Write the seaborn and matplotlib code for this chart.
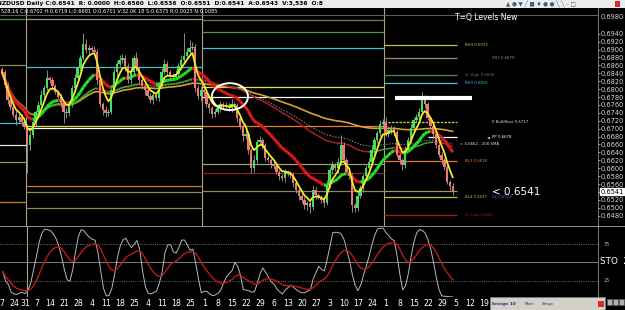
import numpy as np
import pandas as pd
import matplotlib
matplotlib.use("Agg")
import matplotlib.pyplot as plt
import seaborn as sns
from matplotlib.collections import LineCollection
from matplotlib.patches import Ellipse, Rectangle

# daily NZDUSD closes (Dec 18 2018 .. Aug 2019)
closes = [
    0.6843, 0.6810, 0.6773, 0.6755, 0.6735, 0.6722, 0.6730, 0.6717, 0.6704, 0.6659,
    0.6684, 0.6717, 0.6742, 0.6760, 0.6785, 0.6803, 0.6828, 0.6823, 0.6808, 0.6793,
    0.6780, 0.6765, 0.6742, 0.6740, 0.6762, 0.6803, 0.6828, 0.6853, 0.6879, 0.6914,
    0.6899, 0.6904, 0.6899, 0.6894, 0.6823, 0.6762, 0.6747, 0.6740, 0.6742, 0.6798,
    0.6843, 0.6864, 0.6874, 0.6879, 0.6859, 0.6823, 0.6843, 0.6879, 0.6853, 0.6823,
    0.6808, 0.6798, 0.6783, 0.6773, 0.6785, 0.6778, 0.6813, 0.6843, 0.6864, 0.6843,
    0.6833, 0.6831, 0.6838, 0.6859, 0.6874, 0.6884, 0.6894, 0.6904, 0.6907, 0.6803,
    0.6783, 0.6798, 0.6793, 0.6762, 0.6752, 0.6737, 0.6742, 0.6752, 0.6762, 0.6757,
    0.6757, 0.6752, 0.6762, 0.6760, 0.6727, 0.6707, 0.6682, 0.6687, 0.6646, 0.6601,
    0.6621, 0.6666, 0.6671, 0.6659, 0.6626, 0.6621, 0.6611, 0.6606, 0.6591, 0.6580,
    0.6575, 0.6591, 0.6586, 0.6583, 0.6563, 0.6545, 0.6530, 0.6520, 0.6507, 0.6512,
    0.6502, 0.6545, 0.6532, 0.6527, 0.6520, 0.6512, 0.6558, 0.6596, 0.6608, 0.6601,
    0.6616, 0.6659, 0.6621, 0.6591, 0.6580, 0.6507, 0.6500, 0.6530, 0.6550, 0.6580,
    0.6601, 0.6616, 0.6646, 0.6671, 0.6689, 0.6712, 0.6717, 0.6687, 0.6697, 0.6702,
    0.6692, 0.6634, 0.6621, 0.6608, 0.6646, 0.6671, 0.6702, 0.6722, 0.6730, 0.6742,
    0.6778, 0.6762, 0.6727, 0.6707, 0.6687, 0.6659, 0.6634, 0.6621, 0.6603, 0.6565,
    0.6555, 0.6541,
]
first_open = 0.6850
# wick sizes in pips above / below the candle body
hi_wick = [
    6, 5, 8, 6, 5, 10, 8, 6, 12, 9, 10, 8, 6, 10, 12, 8, 20, 6, 8, 5,
    6, 8, 5, 10, 6, 8, 10, 6, 8, 28, 12, 8, 6, 10, 8, 5, 6, 10, 8, 12,
    10, 8, 12, 10, 6, 8, 10, 6, 14, 6, 8, 5, 8, 6, 10, 8, 6, 10, 12, 8,
    6, 8, 10, 8, 12, 58, 10, 20, 12, 6, 8, 10, 6, 8, 5, 6, 8, 10, 8, 6,
    10, 8, 12, 6, 5, 8, 6, 10, 5, 6, 12, 8, 10, 6, 5, 8, 6, 8, 6, 5,
    6, 8, 5, 6, 8, 5, 6, 5, 8, 6, 5, 10, 8, 6, 5, 6, 12, 8, 10, 6,
    10, 25, 8, 6, 5, 8, 6, 10, 8, 6, 8, 10, 12, 8, 6, 10, 8, 12, 10, 8,
    6, 5, 8, 6, 10, 8, 10, 6, 8, 10, 15, 8, 6, 5, 6, 5, 8, 6, 5, 6,
    5, 8,
]
lo_wick = [
    8, 6, 10, 8, 6, 12, 8, 10, 6, 71, 12, 8, 10, 6, 8, 10, 6, 8, 10, 6,
    8, 10, 27, 12, 8, 6, 10, 8, 6, 5, 8, 10, 6, 8, 10, 8, 12, 10, 8, 6,
    8, 10, 6, 8, 12, 8, 10, 8, 6, 10, 8, 12, 6, 8, 10, 6, 8, 10, 6, 8,
    10, 8, 6, 8, 10, 6, 8, 5, 6, 10, 8, 12, 10, 8, 12, 10, 8, 6, 10, 8,
    6, 8, 10, 8, 10, 8, 12, 8, 10, 12, 10, 8, 6, 10, 8, 6, 10, 8, 6, 10,
    8, 10, 6, 8, 10, 8, 10, 8, 10, 12, 15, 8, 10, 6, 8, 10, 6, 8, 10, 8,
    12, 8, 10, 6, 8, 18, 10, 8, 6, 10, 8, 6, 8, 10, 6, 8, 10, 6, 8, 10,
    8, 6, 10, 12, 8, 6, 8, 10, 6, 8, 8, 10, 6, 8, 10, 8, 6, 10, 8, 6,
    10, 8,
]
holidays = ["2018-12-25", "2019-01-01"]
last_label_day = "2019-08-19"

# quarterly pivot levels (price, colour)
q4_levels = [(0.6977, "#3a9a3a"), (0.6861, "#8a8a50"), (0.6714, "#40c0d0"),
             (0.6659, "#e8e8e8"), (0.6616, "#9a9a60"), (0.6515, "#d07830")]
q1_levels = [(0.6977, "#9a9a80"), (0.6856, "#40c0d0"), (0.6707, "#e8e050"),
             (0.6702, "#ffffff"), (0.6555, "#d07830"), (0.6540, "#8a8a60"),
             (0.6499, "#8a8a60")]
q2_levels = [(0.6974, "#8a7050"), (0.6945, "#4a9a4a"), (0.6904, "#40c0d0"),
             (0.6806, "#e8e050"), (0.6780, "#ffffff"), (0.6707, "#e08030"),
             (0.6611, "#a0a070"), (0.6588, "#902020"), (0.6543, "#8a8a60")]
q3_names = ["BH4 0.6912", "SR1 0.6879", "LL High 0.6836", "BH3 0.6815",
            "0 Bull/Bear 0.6717", "PP 0.6678", "BL3 0.6618", "", "BL4 0.6527",
            "LL Low 0.6481"]
q3_prices = [0.6912, 0.6879, 0.6836, 0.6815, 0.6717, 0.6678, 0.6618, 0.6543,
             0.6527, 0.6481]
q3_colors = ["#c8c040", "#a08c6c", "#4a8a4a", "#40c8d8", "#d8d040", "#ffffff",
             "#e08030", "#a09860", "#c8c040", "#a02020"]
q3_label_col = [0, 1, 0, 0, 1, 1, 0, 0, 0, 0]

price_ticks = [round(0.6480 + 0.002 * i, 4) for i in range(24)]
last_price = 0.6541

W, H = 625, 310
sns.set_style("dark")
plt.rcParams["font.family"] = ["DejaVu Sans"]


def fx(px):
    return px / W


def fy(py):
    return 1 - py / H


# ---- dates / positions ----
cal = pd.bdate_range("2018-12-17", "2019-10-31", freq="C", holidays=holidays)
pos = np.arange(len(cal)) - 1
n = len(closes)
x = pos[1:1 + n]

c = pd.Series(closes)
o = pd.Series([first_open] + closes[:-1])
body_top = np.maximum(c, o)
body_bot = np.minimum(c, o)
highs = body_top + np.array(hi_wick) / 10000
lows = body_bot - np.array(lo_wick) / 10000

fig = plt.figure(figsize=(6.25, 3.10), dpi=100, facecolor="black")
ax = fig.add_axes([0, fy(226), fx(598), (226 - 8) / H], facecolor="black")
ax2 = fig.add_axes([0, fy(297), fx(598), (297 - 226) / H], facecolor="black")
XL = (-0.714, 212.86)

# quarter separators
qstart = [p - 0.5 for p, a, b in zip(pos[1:], cal[1:], cal[:-1]) if a.quarter != b.quarter]
bounds = [-2] + qstart
for xs in qstart[:3]:
    ax.axvline(xs, color="#b0a27e", lw=0.8, zorder=1)
ax2.axvline(qstart[0], color="#b0a27e", lw=0.8)

for levels, (a, b) in zip([q4_levels, q1_levels, q2_levels],
                          [(bounds[0], bounds[1]), (bounds[1], bounds[2]), (bounds[2], bounds[3])]):
    for p, col in levels:
        ax.hlines(p, a, b, color=col, lw=0.9, zorder=1)

q3_end = x[-1] + 1.5
for name, p, col, lc in zip(q3_names, q3_prices, q3_colors, q3_label_col):
    start = 152 if name.startswith("PP") else bounds[3]
    ls = (0, (2, 1)) if "Bull" in name else "-"
    ax.hlines(p, start, q3_end, color=col, lw=0.9, ls=ls, zorder=1)
    if name:
        tx = 165.4 if lc == 0 else 175
        ax.text(tx, p, name, color=col if col != "#d8d040" else "#e0e0c0",
                fontsize=2.8, va="center", ha="left")
ax.text(175, 0.6527, "S1 0.6528", color="#3a60d0", fontsize=2.8, va="center")
ax.text(163.5, 0.6662, "= 0.6662 - 200 SMA", color="#e0e0e0", fontsize=2.8, va="center")
ax.text(173.2, 0.6678, "\u25c4", color="#ffffff", fontsize=2.8, va="center")
ax.text(175, last_price, "< 0.6541", color="white", fontsize=7.5, va="center")
ax.text(173, 0.6980, "T=Q Levels New", color="white", fontsize=5.5, ha="center", va="center")
ax.axhline(0.6988, color="#707070", lw=0.6)

# ---- moving averages ----
fast = c.ewm(span=5).mean()
mid = c.ewm(span=20).mean()
slow = c.ewm(span=80).mean()
sma200 = c.ewm(span=300).mean()
grey_ma = c.ewm(span=100).mean()


def slope_line(y, up, down, lw, z):
    pts = np.column_stack([x, np.asarray(y)])
    segs = np.stack([pts[:-1], pts[1:]], axis=1)
    cols = [up if d >= 0 else down for d in np.diff(np.asarray(y))]
    ax.add_collection(LineCollection(segs, colors=cols, linewidths=lw, zorder=3))


ax.plot(x, grey_ma, color="#909090", lw=0.7, ls=(0, (1.5, 1.5)), zorder=2)
ax.plot(x, sma200, color="#d8a030", lw=1.2, zorder=2)
slope_line(slow, "#30b030", "#b02020", 1.1, 2)

# candles
bull = (c >= o).values
heights = np.maximum(body_top - body_bot, 0.00015)
ax.vlines(x, lows, highs, color="#a0a0a0", lw=0.6, zorder=3)
ax.bar(x, heights, bottom=body_bot, width=0.8,
       color=np.where(bull, "#3fe060", "#f07878"), lw=0, zorder=4)

slope_line(mid, "#22e030", "#e01818", 2.2, 5)
sns.lineplot(x=x, y=fast.values, ax=ax, color="#f0f020", lw=1.3, zorder=6)

ax.add_patch(Ellipse((81.4, 0.6781), 12.9, 0.0068, fill=False, ec="white", lw=1.4, zorder=7))
ax.hlines(0.6777, 140.4, 167.9, color="white", lw=3, zorder=7)

ax.set_xlim(*XL)
ax.set_ylim(0.6454, 0.7005)
ax.yaxis.tick_right()
ax.set_yticks(price_ticks)
ax.set_yticklabels([f"{p:.4f}" for p in price_ticks])
ax.tick_params(axis="y", colors="#d8d8d8", labelsize=4.8, length=1.5, pad=0.5, width=0.5)
ax.tick_params(axis="x", length=0, labelbottom=False)
ax.text(1.0045, 0.6982, "0.6980", color="#d8d8d8", fontsize=4.8, va="center",
        transform=ax.get_yaxis_transform())
ax.annotate(f"{last_price:.4f}", xy=(1.0, last_price), xycoords=("axes fraction", "data"),
            xytext=(1.6, 0), textcoords="offset points", fontsize=4.8, color="black", va="center",
            bbox=dict(boxstyle="square,pad=0.1", fc="white", ec="white"))
ax.grid(False)
for s in ["top", "left", "bottom"]:
    ax.spines[s].set_visible(False)
ax.spines["right"].set_color("#909090")
ax.spines["right"].set_linewidth(0.6)

# ---- stochastic ----
hh = pd.Series(highs).rolling(10, min_periods=1).max()
ll = pd.Series(lows).rolling(10, min_periods=1).min()
k = (100 * (c - ll) / (hh - ll)).rolling(3, min_periods=1).mean()
d = k.ewm(span=12).mean()
for lvl, st in [(75, ":"), (25, ":"), (50, "-")]:
    ax2.axhline(lvl, color="#909090", lw=0.6, ls=st)
sns.lineplot(x=x, y=k.values, ax=ax2, color="#b8b8b8", lw=0.7)
sns.lineplot(x=x, y=d.values, ax=ax2, color="#c01818", lw=1.0)
ax2.set_xlim(*XL)
ax2.set_ylim(3.4, 99.3)
ax2.set_yticks([])
ax2.grid(False)
mondays = [(p, str(dt.day)) for p, dt in zip(pos, cal)
           if dt.dayofweek == 0 and dt <= pd.Timestamp(last_label_day)]
ax2.set_xticks([p for p, _ in mondays])
ax2.set_xticklabels([t for _, t in mondays])
ax2.tick_params(axis="x", colors="white", labelsize=5.6, length=0, pad=1.5)
for s in ["top", "left", "bottom"]:
    ax2.spines[s].set_visible(False)
ax2.spines["right"].set_color("#909090")
ax2.spines["right"].set_linewidth(0.6)
fig.add_artist(plt.Line2D([0, 1], [fy(226), fy(226)], color="#909090", lw=0.7))
fig.text(fx(604), fy(244), "75", color="#c0c0c0", fontsize=3.5, va="center")
fig.text(fx(604), fy(281), "25", color="#c0c0c0", fontsize=3.5, va="center")
fig.text(fx(600), fy(262), "STO  24", color="white", fontsize=6.3, va="center")

# ---- header ----
fig.add_artist(Rectangle((0, fy(8)), 1, 8 / H, transform=fig.transFigure, fc="#ececec", ec="none"))
fig.text(fx(-3), fy(4), "NZDUSD Daily C:0.6541  R: 0.0000  H:0.6560  L:0.6536  O:0.6551  D:0.6541  "
         "A:0.6543  V:3,536  O:8", color="black", fontsize=4.2, va="center", weight="bold")
fig.text(fx(1), fy(11.5), "528.16 C:0.6702 H:0.6719 L:0.6681 O:0.6701 V:32.0K 18 S:0.6375 "
         "R:0.0025 N:0.0085", color="white", fontsize=3.6, va="center")
fig.text(fx(506), fy(4), "\u25b2 \u25cf \u25bc \u2571 \u25a0 \u2666 \u25cf \u25cf \u2572 \u2572 \u2013 \u25a1",
         color="#406080", fontsize=4, va="center")
fig.add_artist(Rectangle((fx(615), fy(7)), 5 / W, 6 / H, transform=fig.transFigure,
                         fc="#d03030", ec="none"))

# ---- ensign widget ----
fig.add_artist(Rectangle((fx(490), 0), 115 / W, 13 / H, transform=fig.transFigure,
                         fc="#d4d0c8", ec="#808080", lw=0.5, zorder=10))
fig.text(fx(492), fy(304), "Ensign 10", color="#203080", fontsize=3.1, weight="bold",
         va="center", zorder=11)
fig.text(fx(525), fy(304), "Main", color="#203080", fontsize=2.9, va="center", zorder=11)
fig.text(fx(542), fy(304), "Setup", color="#203080", fontsize=2.9, va="center", zorder=11)
fig.add_artist(Rectangle((fx(598), fy(307)), 6 / W, 6 / H, transform=fig.transFigure,
                         fc="#d03030", ec="none", zorder=11))
for bx in [607, 613, 619]:
    fig.add_artist(Rectangle((fx(bx), fy(305)), 5 / W, 6 / H, transform=fig.transFigure,
                             fc="#b0b0b0", ec="#606060", lw=0.4, zorder=10))

fig.savefig("out.png", dpi=100, facecolor="black")
